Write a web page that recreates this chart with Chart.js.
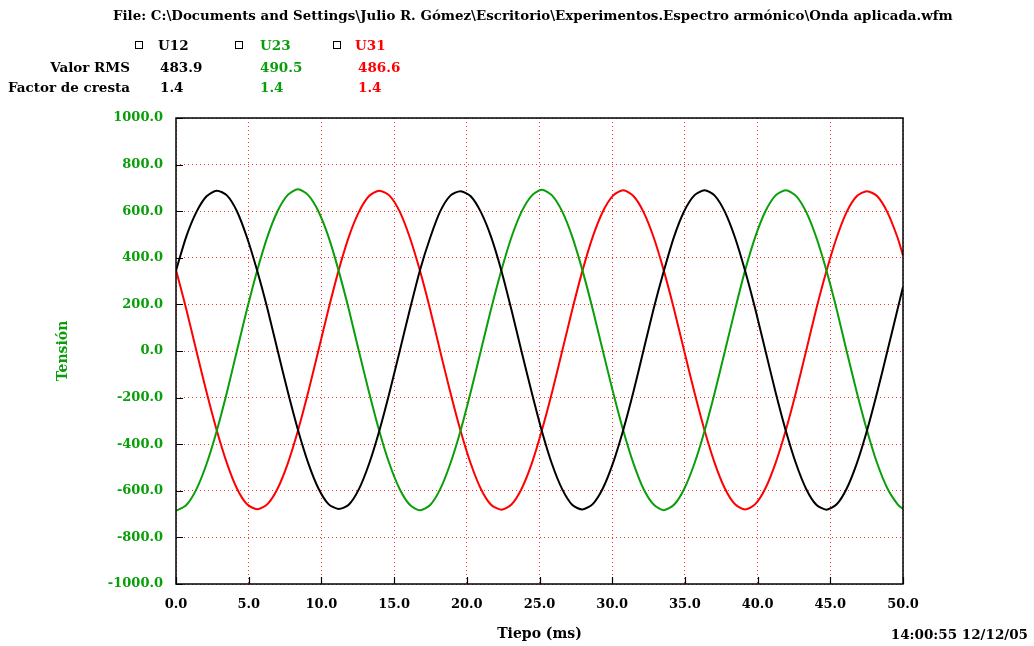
<!DOCTYPE html>
<html>
<head>
<meta charset="utf-8">
<script src="https://cdn.jsdelivr.net/npm/chart.js@4.4.1/dist/chart.umd.min.js"></script>
<style>
  body { margin: 0; background: #fff; }
  #wrap { position: relative; width: 1034px; height: 646px; font-family: 'DejaVu Serif', serif; font-weight: bold; }
  #wrap div.t { position: absolute; white-space: nowrap; font-size: 13.5px; line-height: 16px; }
  .box { position: absolute; width: 6px; height: 6px; border: 1px solid #000; }
  .g { color: #0a9e0a; }
  .r { color: #ff0000; }
</style>
</head>
<body>
<div id="wrap">
  <canvas id="chart" width="1034" height="646"></canvas>
  <div class="t" style="left:113px;top:7px;font-size:13.4px">File: C:\Documents and Settings\Julio R. Gómez\Escritorio\Experimentos.Espectro armónico\Onda aplicada.wfm</div>

  <span class="box" style="left:135px;top:41px"></span>
  <div class="t" style="left:158px;top:37px">U12</div>
  <span class="box" style="left:235px;top:41px"></span>
  <div class="t g" style="left:260px;top:37px">U23</div>
  <span class="box" style="left:333px;top:41px"></span>
  <div class="t r" style="left:355px;top:37px">U31</div>

  <div class="t" style="right:904px;top:59px">Valor RMS</div>
  <div class="t" style="left:160px;top:59px">483.9</div>
  <div class="t g" style="left:260px;top:59px">490.5</div>
  <div class="t r" style="left:358px;top:59px">486.6</div>

  <div class="t" style="right:904px;top:79px">Factor de cresta</div>
  <div class="t" style="left:160px;top:79px">1.4</div>
  <div class="t g" style="left:260px;top:79px">1.4</div>
  <div class="t r" style="left:358px;top:79px">1.4</div>

  <div class="t" style="right:6px;top:626px;font-size:13.5px">14:00:55 12/12/05</div>
</div>
<script>
// sample times (ms)
const times = [0, 0.70, 1.40, 2.10, 2.80, 3.50, 4.19, 4.89, 5.59, 6.29, 6.99, 7.69,
  8.39, 9.09, 9.79, 10.49, 11.18, 11.88, 12.58, 13.28, 13.98, 14.68, 15.38, 16.08,
  16.78, 17.48, 18.17, 18.87, 19.57, 20.27, 20.97, 21.67, 22.37, 23.07, 23.77, 24.47,
  25.16, 25.86, 26.56, 27.26, 27.96, 28.66, 29.36, 30.06, 30.76, 31.46, 32.15, 32.85,
  33.55, 34.25, 34.95, 35.65, 36.35, 37.05, 37.75, 38.45, 39.14, 39.84, 40.54, 41.24,
  41.94, 42.64, 43.34, 44.04, 44.74, 45.44, 46.13, 46.83, 47.53, 48.23, 48.93, 49.63, 50.0]

const u12 = [345, 490, 596, 664, 688, 668, 600, 486, 343, 181, 2, -175,
  -339, -480, -589, -657, -678, -660, -593, -484, -343, -179, -2, 177,
  347, 486, 599, 667, 686, 664, 596, 490, 347, 177, -3, -179,
  -343, -485, -593, -661, -680, -657, -589, -480, -339, -175, 2, 181,
  343, 490, 600, 668, 690, 667, 597, 486, 344, 180, 1, -178,
  -342, -483, -592, -660, -681, -658, -590, -481, -340, -176, 1, 180, 275]

const u23 = [-686, -662, -594, -485, -343, -178, 1, 181, 347, 491, 601, 670,
  694, 669, 600, 490, 346, 180, -1, -178, -343, -484, -592, -660,
  -684, -661, -593, -483, -342, -176, 2, 180, 344, 488, 598, 667,
  692, 668, 599, 489, 345, 179, 0, -177, -341, -482, -591, -659,
  -683, -660, -592, -484, -343, -179, -1, 178, 346, 490, 600, 668,
  690, 666, 597, 487, 344, 178, -2, -179, -342, -483, -590, -658, -678]

const u31 = [348, 181, 1, -176, -340, -481, -590, -658, -679, -657, -590, -482,
  -341, -177, 1, 180, 345, 489, 597, 665, 688, 667, 599, 487,
  344, 178, -1, -178, -342, -483, -592, -660, -681, -659, -591, -482,
  -341, -178, 0, 179, 346, 490, 599, 667, 690, 665, 597, 488,
  345, 180, 1, -176, -340, -481, -590, -658, -680, -657, -589, -480,
  -340, -177, 1, 181, 344, 487, 597, 665, 686, 664, 595, 486, 410]

const seriesNames = ['U12', 'U23', 'U31']
const seriesColors = ['#000000', '#0a9e0a', '#ff0000']
const green = '#0a9e0a'

const toPoints = (vals) => vals.map((v, i) => ({ x: times[i], y: v }))

// black frame + inward tick marks
const frame = {
  id: 'frame',
  afterDraw(chart) {
    const { ctx, chartArea: a, scales: { x, y } } = chart
    ctx.save()
    ctx.strokeStyle = '#000'
    ctx.lineWidth = 1.5
    ctx.strokeRect(a.left, a.top, a.right - a.left, a.bottom - a.top)
    ctx.beginPath()
    x.ticks.forEach((t) => {
      const px = Math.round(x.getPixelForValue(t.value)) + 0.5
      ctx.moveTo(px, a.bottom)
      ctx.lineTo(px, a.bottom - 7)
    })
    y.ticks.forEach((t) => {
      const py = Math.round(y.getPixelForValue(t.value)) + 0.5
      ctx.moveTo(a.left, py)
      ctx.lineTo(a.left + 7, py)
    })
    ctx.lineWidth = 1.2
    ctx.stroke()
    ctx.restore()
  },
}

Chart.defaults.font.family = "'DejaVu Serif', serif"
Chart.defaults.font.weight = 'bold'

new Chart(document.getElementById('chart'), {
  type: 'line',
  data: {
    datasets: [u12, u23, u31].map((vals, i) => ({
      label: seriesNames[i],
      data: toPoints(vals),
      borderColor: seriesColors[i],
      borderWidth: 2,
      pointRadius: 0,
      tension: 0.25,
      fill: false,
    })),
  },
  options: {
    responsive: false,
    devicePixelRatio: 1,
    animation: false,
    layout: { padding: { top: 118, right: 131, left: 0, bottom: 0 } },
    plugins: { legend: { display: false }, tooltip: { enabled: false } },
    scales: {
      x: {
        type: 'linear',
        min: 0,
        max: 50,
        afterFit: (s) => { s.height = 62 },
        ticks: {
          stepSize: 5,
          color: '#000',
          padding: 13,
          maxRotation: 0,
          font: { size: 13, weight: 'bold' },
          callback: (v) => v.toFixed(1),
        },
        grid: { color: 'rgba(255,0,0,0.8)', lineWidth: 1, drawTicks: false },
        border: { display: false, dash: [1, 3] },
        title: {
          display: true,
          text: 'Tiepo (ms)',
          color: '#000',
          font: { size: 14, weight: 'bold' },
          padding: { top: 0, bottom: 3 },
        },
      },
      y: {
        min: -1000,
        max: 1000,
        afterFit: (s) => { s.width = 176 },
        ticks: {
          stepSize: 200,
          color: green,
          padding: 13,
          font: { size: 13, weight: 'bold' },
          callback: (v) => v.toFixed(1),
        },
        grid: { color: 'rgba(255,0,0,0.8)', lineWidth: 1, drawTicks: false },
        border: { display: false, dash: [1, 3] },
        title: {
          display: true,
          text: 'Tensión',
          color: green,
          font: { size: 14, weight: 'bold' },
          padding: { top: 55, bottom: 0 },
        },
      },
    },
  },
  plugins: [frame],
})
</script>
</body>
</html>
